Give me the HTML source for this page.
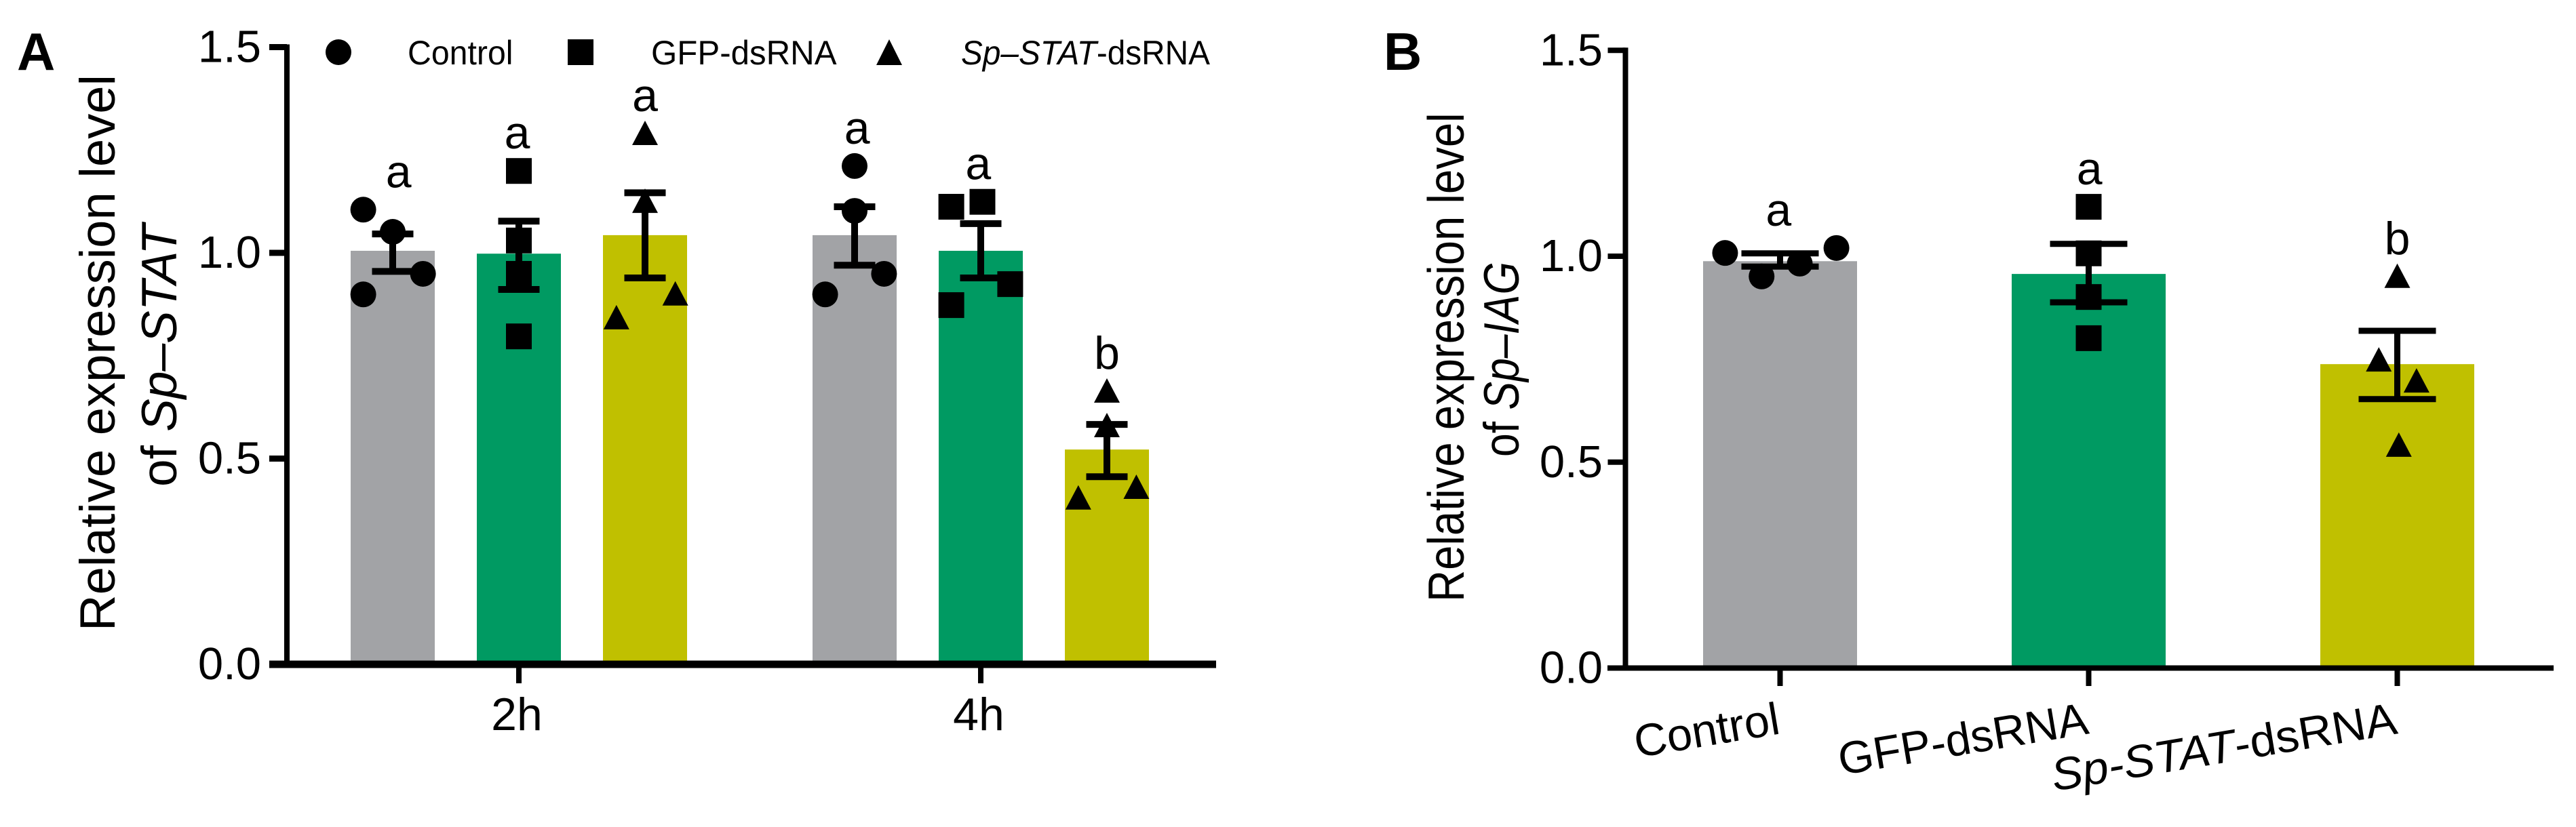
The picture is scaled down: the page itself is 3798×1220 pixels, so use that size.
<!DOCTYPE html>
<html lang="en">
<head>
<meta charset="utf-8">
<title>Relative expression of Sp-STAT and Sp-IAG</title>
<style>
  html, body { margin: 0; padding: 0; background: #fff; }
  svg { display: block; }
  text { font-family: "Liberation Sans", Arial, sans-serif; fill: #000; }
</style>
</head>
<body>
<svg id="figure" xmlns="http://www.w3.org/2000/svg" width="3798" height="1220" viewBox="0 0 3798 1220">
  <rect x="0" y="0" width="3798" height="1220" fill="#ffffff"/>

  <text x="25" y="103" font-size="78" font-weight="bold">A</text>
  <text x="2040" y="103" font-size="78" font-weight="bold">B</text>

  <g>
    <text transform="translate(169 931) rotate(-90) scale(1.017 1)" font-size="73">Relative expression level</text>
    <text transform="translate(260 718) rotate(-90) scale(1.0 1)" font-size="73">of <tspan font-style="italic">Sp–STAT</tspan></text>
  </g>
  <g>
    <text transform="translate(2158 888) rotate(-90) scale(0.87 1)" font-size="75">Relative expression level</text>
    <text transform="translate(2239 674) rotate(-90) scale(0.855 1)" font-size="73">of <tspan font-style="italic">Sp–IAG</tspan></text>
  </g>

  <g>
    <g>
      <circle cx="499" cy="77" r="19" fill="#000"/>
      <text transform="translate(601 95) scale(0.965 1)" font-size="50">Control</text>
    </g>
    <g>
      <rect x="837" y="58" width="38" height="38" fill="#000"/>
      <text transform="translate(960 95) scale(0.985 1)" font-size="50">GFP-dsRNA</text>
    </g>
    <g>
      <polygon points="1311,58 1330,96 1292,96" fill="#000"/>
      <text transform="translate(1417 95) scale(0.955 1)" font-size="50"><tspan font-style="italic">Sp–STAT</tspan>-dsRNA</text>
    </g>
  </g>

  <g id="panel-a"></g>
  <g id="panel-b"></g>
</svg>

<script>
// Shared
const yTickValues = [0, 0.5, 1, 1.5];
const yTickLabels = ["0.0", "0.5", "1.0", "1.5"];
const barSeries = ["control", "gfp-dsrna", "sp-stat-dsrna"];

// Panel A: Sp-STAT at 2h and 4h
const aGroups = ["2h", "4h"];
const aBarValues = [1.005, 0.998, 1.043, 1.043, 1.005, 0.522];
const aErrUpper = [1.046, 1.077, 1.146, 1.112, 1.071, 0.583];
const aErrLower = [0.955, 0.911, 0.939, 0.970, 0.939, 0.456];
const aPointValues = [
  [1.105, 1.051, 0.949, 0.899],
  [1.199, 1.030, 0.949, 0.797],
  [1.290, 1.125, 0.900, 0.842],
  [1.211, 1.102, 0.949, 0.899],
  [1.112, 1.124, 0.924, 0.873],
  [0.664, 0.580, 0.430, 0.404]
];
// Horizontal swarm offset of each replicate, as a fraction of bar width
const aPointJitter = [
  [-0.35, 0, 0.36, -0.35],
  [0, 0, 0, 0],
  [0, 0, 0.36, -0.34],
  [0, 0, 0.35, -0.35],
  [-0.35, 0.02, 0.35, -0.35],
  [0, 0, 0.35, -0.34]
];
const aLetters = ["a", "a", "a", "a", "a", "b"];

// Panel B: Sp-IAG
const bCategories = ["Control", "GFP-dsRNA", "Sp-STAT-dsRNA"];
const bBarValues = [0.988, 0.957, 0.738];
const bErrUpper = [1.007, 1.030, 0.819];
const bErrLower = [0.975, 0.888, 0.653];
const bPointValues = [
  [1.008, 1.020, 0.951, 0.982],
  [1.120, 1.007, 0.901, 0.801],
  [0.951, 0.748, 0.697, 0.541]
];
const bPointJitter = [
  [-0.357, 0.366, -0.12, 0.128],
  [0, 0, 0, 0],
  [0, -0.12, 0.125, 0.01]
];
const bLetters = ["a", "a", "b"];

const SVG_NS = "http://www.w3.org/2000/svg";
const barColors = ["#a2a3a6", "#009a62", "#c0c000"];
const markerHalf = 19;
// Small hand-placement of the significance letters, as a fraction of bar width
const aLetterNudge = [0.07, -0.02, 0, 0.03, -0.03, 0];
const bLetterNudge = [-0.01, 0.005, 0];

function el(parent, tag, attrs) {
  const node = document.createElementNS(SVG_NS, tag);
  for (const key in attrs) {
    node.setAttribute(key, attrs[key]);
  }
  parent.appendChild(node);
  return node;
}

function drawMarker(parent, seriesIndex, x, y) {
  let node;
  if (seriesIndex === 0) {
    node = el(parent, "circle", { cx: x, cy: y, r: markerHalf, fill: "#000" });
  } else if (seriesIndex === 1) {
    node = el(parent, "rect", { x: x - markerHalf, y: y - markerHalf, width: markerHalf * 2, height: markerHalf * 2, fill: "#000" });
  } else {
    node = el(parent, "polygon", {
      points: x + "," + (y - markerHalf) + " " + (x + markerHalf) + "," + (y + 17) + " " + (x - markerHalf) + "," + (y + 17),
      fill: "#000"
    });
  }
  return node;
}

function drawBars(root, o) {
  o.values.forEach(function (value, i) {
    const cx = o.barX(i);
    const seriesIndex = i % 3;
    const top = o.y(value);

    const group = el(root, "g", {});
    
    

    const bar = el(group, "rect", {
      x: cx - o.barWidth / 2, y: top, width: o.barWidth,
      height: o.y(0) - top, fill: barColors[seriesIndex]
    });
    
    

    const hiY = o.y(o.upper[i]);
    const loY = o.y(o.lower[i]);
    const stem = el(group, "line", { x1: cx, x2: cx, y1: hiY, y2: loY, stroke: "#000", "stroke-width": o.errStroke });
    
    
    const capHi = el(group, "line", { x1: cx - o.capHalf, x2: cx + o.capHalf, y1: hiY, y2: hiY, stroke: "#000", "stroke-width": o.errStroke });
    
    
    const capLo = el(group, "line", { x1: cx - o.capHalf, x2: cx + o.capHalf, y1: loY, y2: loY, stroke: "#000", "stroke-width": o.errStroke });
    
    

    let highest = Infinity;
    o.points[i].forEach(function (pv, j) {
      const px = cx + o.jitter[i][j] * o.barWidth;
      const py = o.y(pv);
      highest = Math.min(highest, py);
      const marker = drawMarker(group, seriesIndex, px, py);
      
      
    });

    const letter = el(group, "text", {
      x: cx + o.letterNudge[i] * o.barWidth, y: highest - markerHalf - 14,
      "font-size": 68, "text-anchor": "middle"
    });
    letter.textContent = o.letters[i];
    
    
  });
}

function drawYAxis(root, o) {
  const axis = el(root, "line", { x1: o.axisX, x2: o.axisX, y1: o.y(1.5) - 4, y2: o.y(0) + 4, stroke: "#000", "stroke-width": 8 });
  
  
  yTickValues.forEach(function (value, i) {
    const ty = o.y(value);
    const tick = el(root, "line", { x1: o.axisX - 26, x2: o.axisX, y1: ty, y2: ty, stroke: "#000", "stroke-width": o.tickStroke });
    
    
    const label = el(root, "text", { x: o.labelX, y: ty + 22, "font-size": 67, "text-anchor": "end" });
    label.textContent = yTickLabels[i];
    
    
  });
}

function drawXAxisLine(root, o) {
  const line = el(root, "line", { x1: o.xStart, x2: o.xEnd, y1: o.y(0), y2: o.y(0), stroke: "#000", "stroke-width": o.xStroke });
  
  
}

function drawXTick(root, x, bottom) {
  const tick = el(root, "line", { x1: x, x2: x, y1: bottom - 30, y2: bottom, stroke: "#000", "stroke-width": 8 });
  
  
}

/* Panel A */
(function () {
  const root = document.getElementById("panel-a");
  const y = function (v) { return 980 - 607 * v; };
  const groupX = function (g) { return 765 + 681 * g; };
  const barX = function (i) { return groupX(Math.floor(i / 3)) + (i % 3 - 1) * 186; };

  drawBars(root, {
    values: aBarValues, upper: aErrUpper, lower: aErrLower,
    points: aPointValues, jitter: aPointJitter, letters: aLetters,
    y: y, barX: barX, barWidth: 124, capHalf: 30.5, errStroke: 10, letterNudge: aLetterNudge
  });
  drawYAxis(root, { y: y, axisX: 423, labelX: 385, tickStroke: 9 });
  drawXAxisLine(root, { y: y, xStart: 397, xEnd: 1793, xStroke: 11 });

  aGroups.forEach(function (name, g) {
    drawXTick(root, groupX(g), 1008);
    const label = el(root, "text", { x: groupX(g) - 3, y: 1077, "font-size": 68, "text-anchor": "middle" });
    label.textContent = name;
    
    
  });
})();

/* Panel B */
(function () {
  const root = document.getElementById("panel-b");
  const y = function (v) { return 985.5 - 607.5 * v; };
  const barX = function (i) { return 2624.5 + 455 * i; };

  drawBars(root, {
    values: bBarValues, upper: bErrUpper, lower: bErrLower,
    points: bPointValues, jitter: bPointJitter, letters: bLetters,
    y: y, barX: barX, barWidth: 227, capHalf: 57, errStroke: 9, letterNudge: bLetterNudge
  });
  drawYAxis(root, { y: y, axisX: 2396.5, labelX: 2363, tickStroke: 8 });
  drawXAxisLine(root, { y: y, xStart: 2370, xEnd: 3765, xStroke: 8 });

  bCategories.forEach(function (name, i) {
    const tx = barX(i);
    drawXTick(root, tx, 1012);
    const lx = tx + 2;
    const ly = 1082;
    const stretch = name.length > 10 ? 1.03 : 1;
    const label = el(root, "text", {
      x: 0, y: 0, "font-size": 67, "text-anchor": "end",
      transform: "translate(" + lx + " " + ly + ") rotate(-9.5) scale(" + stretch + " 1)"
    });
    if (name.indexOf("Sp-STAT") === 0) {
      const italic = el(label, "tspan", { "font-style": "italic" });
      italic.textContent = "Sp-STAT";
      const rest = el(label, "tspan", {});
      rest.textContent = name.slice(7);
    } else {
      label.textContent = name;
    }
    
    
  });
})();
</script>
</body>
</html>
